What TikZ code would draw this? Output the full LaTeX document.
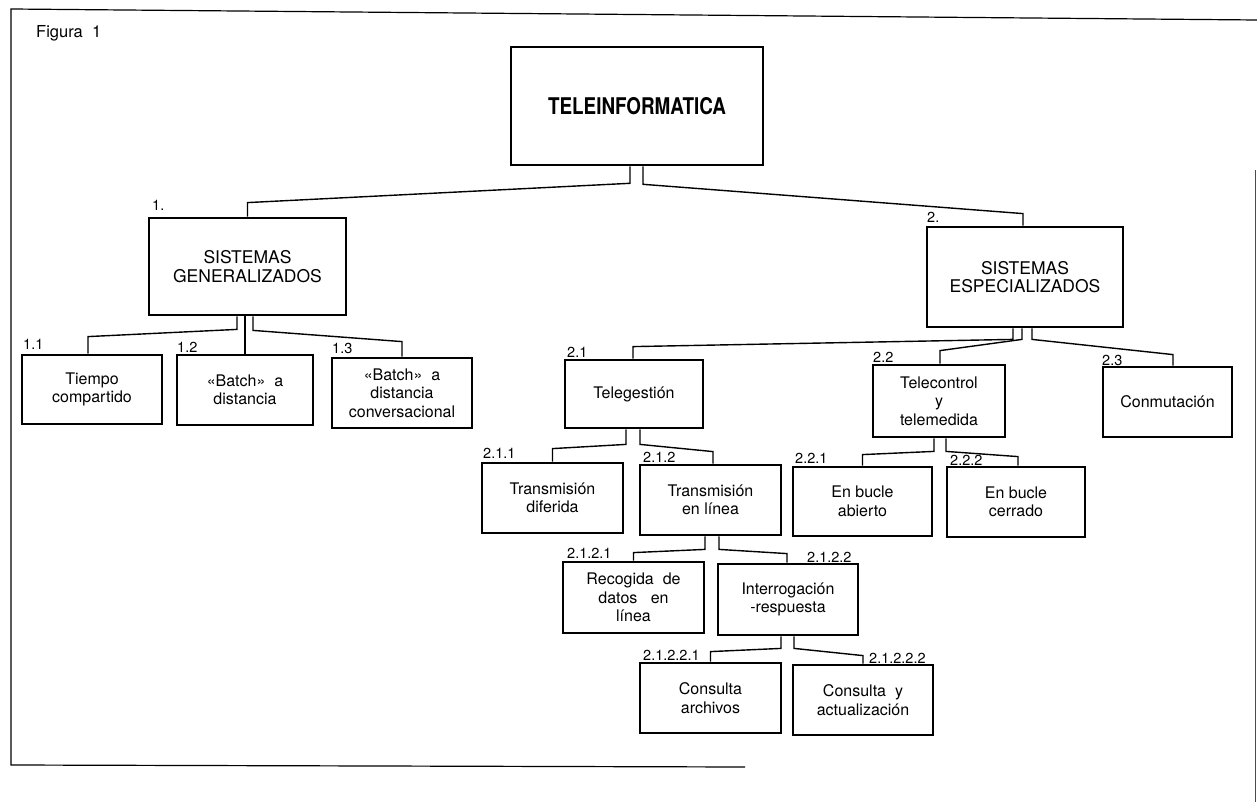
\documentclass[tikz,border=0pt]{standalone}
\usepackage{fontspec}
\setmainfont{TeX Gyre Heros}
\newfontfamily\condfont[FakeStretch=0.82]{TeX Gyre Heros}
\begin{document}
\begin{tikzpicture}[x=1pt,y=-1pt,
  box/.style={draw, line width=2.8pt, inner sep=0pt, align=center,
    font=\fontsize{16}{18.5}\selectfont},
  bigbox/.style={box, font=\fontsize{17.5}{18.5}\selectfont},
  conn/.style={line width=1.4pt, line join=miter},
  num/.style={anchor=base west, inner sep=0pt, font=\fontsize{14.5}{15}\selectfont},
  frameline/.style={line width=1.2pt}]
\useasboundingbox (0,0) rectangle (1257,802);
% frame
\coordinate (ftl) at (11,9);
\coordinate (ftr) at (1257,20);
\coordinate (fbl) at (11,765);
\coordinate (fbr) at (745,767);
\coordinate (frt) at (1255,170);
\coordinate (frb) at (1255,802);
\draw[frameline] (ftr) -- (ftl) -- (fbl) -- (fbr);
\draw[line width=0.8pt, black!70] (frt) -- (frb);
\node[anchor=base west, inner sep=0pt, font=\fontsize{16.5}{18}\selectfont] (fig) at (36,38) {Figura\ \ 1};

% boxes
\node[box, line width=2.6pt, minimum width=252pt, minimum height=118pt,
  font=\condfont\bfseries\fontsize{23}{24}\selectfont] (tele) at (637,106) {TELEINFORMATICA};
\node[bigbox, minimum width=197pt, minimum height=97pt] (sg) at (247.5,266.5) {SISTEMAS\\GENERALIZADOS};
\node[bigbox, minimum width=196pt, minimum height=100pt] (se) at (1025,277) {SISTEMAS\\ESPECIALIZADOS};

\node[box, minimum width=140pt, minimum height=69pt] (b11) at (92,389.5) {Tiempo\\compartido};
\node[box, minimum width=136pt, minimum height=70pt] (b12) at (245,390) {«Batch»\ \ a\\distancia};
\node[box, minimum width=140pt, minimum height=70pt] (b13) at (402,393) {«Batch»\ \ a\\distancia\\conversacional};

\node[box, minimum width=138pt, minimum height=68pt] (b21) at (634,394) {Telegestión};
\node[box, minimum width=132pt, minimum height=72pt] (b22) at (939,401) {Telecontrol\\y\\telemedida};
\node[box, minimum width=129pt, minimum height=70pt] (b23) at (1167.5,402) {Conmutación};

\node[box, minimum width=141pt, minimum height=70pt] (b211) at (552.5,498) {Transmisión\\diferida};
\node[box, minimum width=141pt, minimum height=70pt] (b212) at (710.5,500) {Transmisión\\en línea};
\node[box, minimum width=139pt, minimum height=69pt] (b221) at (862.5,501.5) {En bucle\\abierto};
\node[box, minimum width=138pt, minimum height=70pt] (b222) at (1016,502) {En bucle\\cerrado};

\node[box, minimum width=141pt, minimum height=71pt] (b2121) at (633.5,597.5) {Recogida\ \ de\\datos\ \ \ en\\línea};
\node[box, minimum width=140pt, minimum height=71pt] (b2122) at (788,599.5) {Interrogación\\-respuesta};

\node[box, minimum width=141pt, minimum height=70pt] (b21221) at (710.5,698) {Consulta\\archivos};
\node[box, minimum width=140pt, minimum height=70pt] (b21222) at (863,700) {Consulta\ \ y\\actualización};

% numbers
\node[num] (n1) at (152,211) {1.};
\node[num] (n2) at (927,223) {2.};
\node[num] (n11) at (23,349) {1.1};
\node[num] (n12) at (177,352) {1.2};
\node[num] (n13) at (332,353) {1.3};
\node[num] (n21) at (567,357) {2.1};
\node[num] (n22) at (873,362) {2.2};
\node[num] (n23) at (1102,365) {2.3};
\node[num] (n211) at (483,458) {2.1.1};
\node[num] (n212) at (643,462) {2.1.2};
\node[num] (n221) at (795,463) {2.2.1};
\node[num] (n222) at (950,465) {2.2.2};
\node[num] (n2121) at (567,558) {2.1.2.1};
\node[num] (n2122) at (807,562) {2.1.2.2};
\node[num] (n21221) at (643,660) {2.1.2.2.1};
\node[num] (n21222) at (869,663) {2.1.2.2.2};

% connectors
\draw[conn] ([xshift=-7pt]tele.south) -- ++(0,17) -- ([yshift=14pt]sg.north) -- (sg.north);
\draw[conn] ([xshift=6pt]tele.south) -- ++(0,18) -- ([xshift=-2pt,yshift=12pt]se.north) -- ([xshift=-2pt]se.north);

\draw[conn] ([xshift=-10.5pt]sg.south) -- ++(0,13) -- ([xshift=-4pt,yshift=17pt]b11.north) -- ([xshift=-4pt]b11.north);
\draw[conn] ([xshift=-2.5pt]sg.south) -- (b12.north);
\draw[conn] ([xshift=5.5pt]sg.south) -- ++(0,14) -- ([yshift=15pt]b13.north) -- (b13.north);

\draw[conn] ([xshift=-12pt]se.south) -- ++(0,11) -- ([xshift=-1pt,yshift=12pt]b21.north) -- ([xshift=-1pt]b21.north);
\draw[conn] ([xshift=-3pt]se.south) -- ++(0,11) -- ([xshift=1pt,yshift=13pt]b22.north) -- ([xshift=1pt]b22.north);
\draw[conn] ([xshift=7pt]se.south) -- ++(0,11) -- ([xshift=5.5pt,yshift=11pt]b23.north) -- ([xshift=5.5pt]b23.north);

\draw[conn] ([xshift=-8pt]b21.south) -- ++(0,15) -- ([yshift=13pt]b211.north) -- (b211.north);
\draw[conn] ([xshift=6pt]b21.south) -- ++(0,15) -- ([xshift=2.5pt,yshift=12pt]b212.north) -- ([xshift=2.5pt]b212.north);

\draw[conn] ([xshift=-5.5pt]b212.south) -- ++(0,13) -- ([yshift=8pt]b2121.north) -- (b2121.north);
\draw[conn] ([xshift=8.5pt]b212.south) -- ++(0,13) -- ([xshift=-1pt,yshift=9pt]b2122.north) -- ([xshift=-1pt]b2122.north);

\draw[conn] ([xshift=-7pt]b2122.south) -- ++(0,12) -- ([yshift=10pt]b21221.north) -- (b21221.north);
\draw[conn] ([xshift=6pt]b2122.south) -- ++(0,12) -- ([yshift=8pt]b21222.north) -- (b21222.north);

\draw[conn] ([xshift=-5pt]b22.south) -- ++(0,13) -- ([yshift=11pt]b221.north) -- (b221.north);
\draw[conn] ([xshift=7pt]b22.south) -- ++(0,13) -- ([xshift=2pt,yshift=9pt]b222.north) -- ([xshift=2pt]b222.north);
\end{tikzpicture}
\end{document}
